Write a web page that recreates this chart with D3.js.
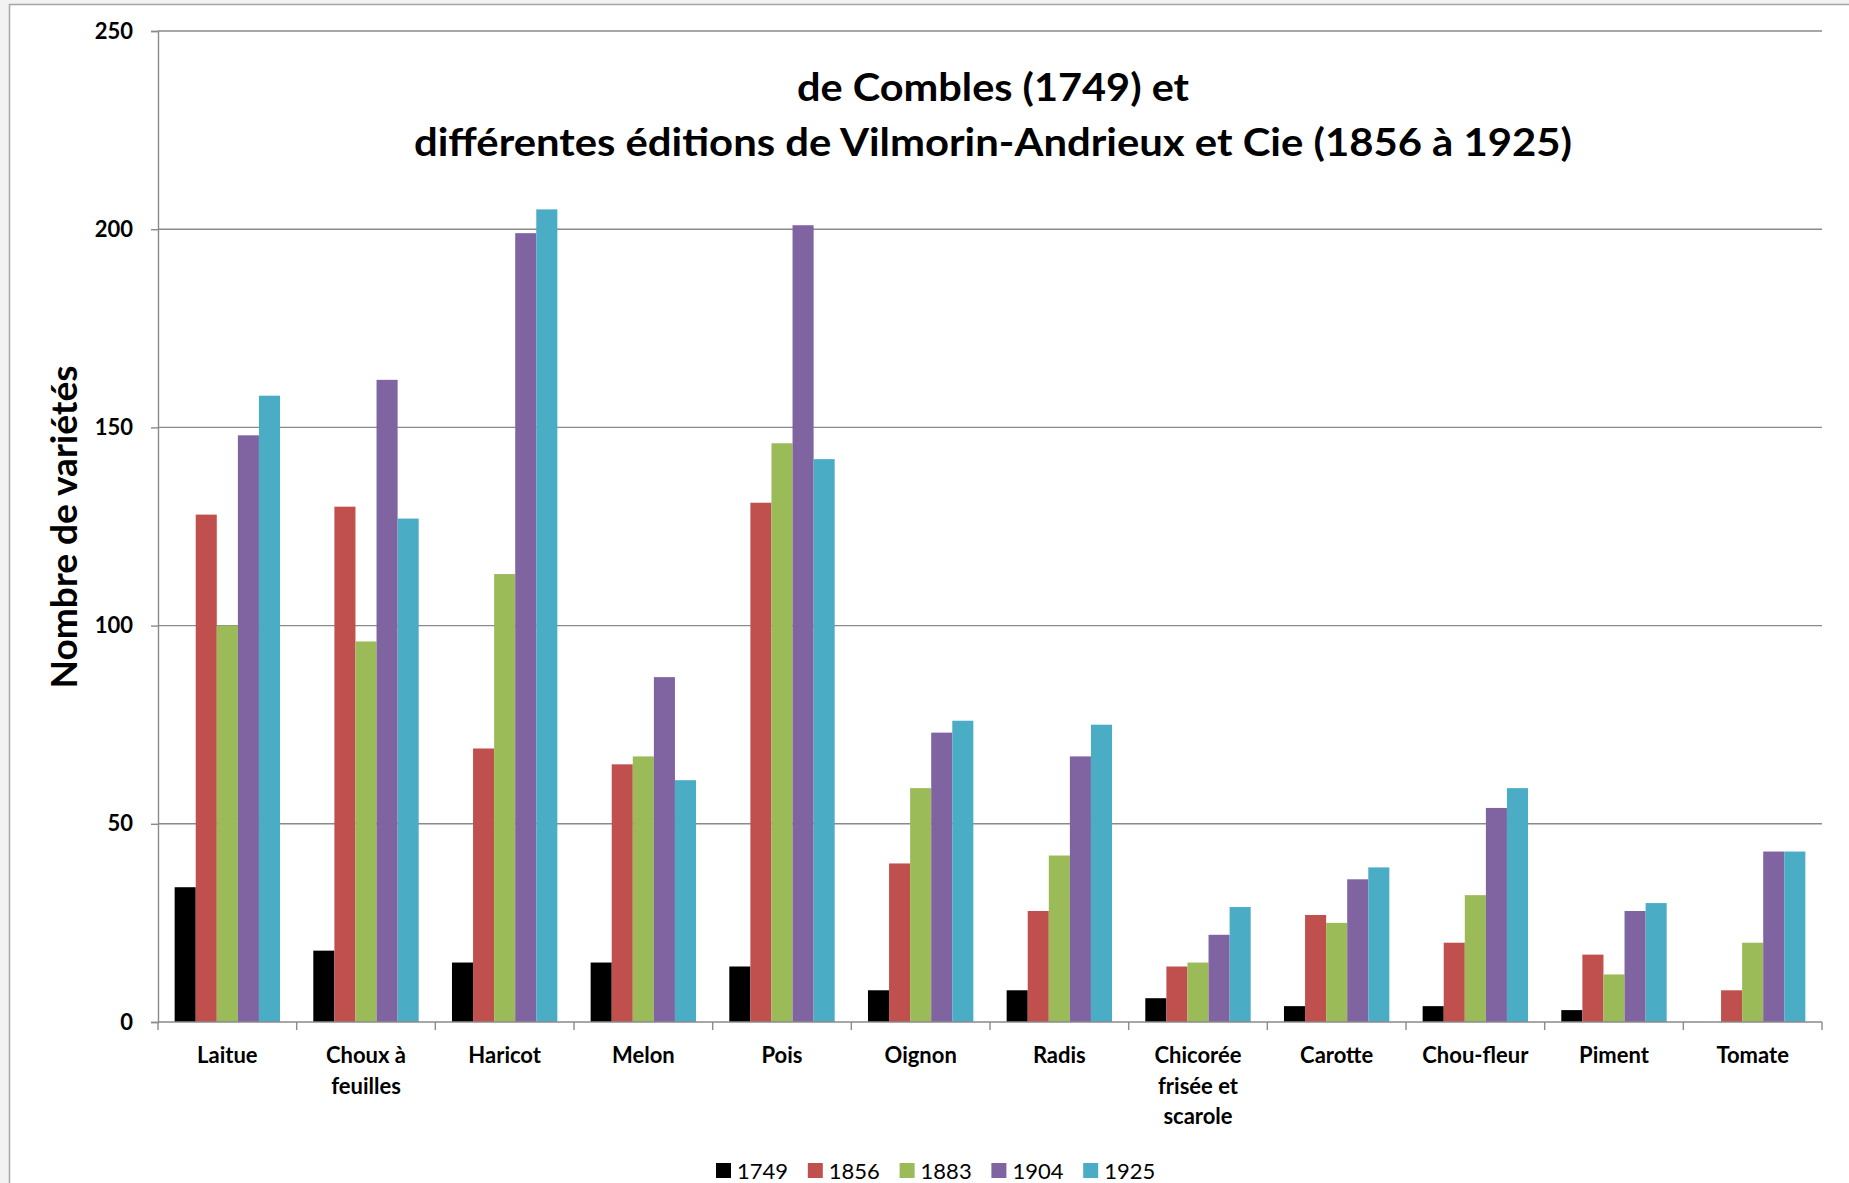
<!DOCTYPE html>
<html>
<head>
<meta charset="utf-8">
<script src="https://cdn.jsdelivr.net/npm/d3@7"></script>
<style>
  html, body { margin: 0; padding: 0; background: #f2f2f2; overflow: hidden; }
  svg { display: block; }
</style>
</head>
<body>
<script>
const categories = [["Laitue"], ["Choux à", "feuilles"], ["Haricot"], ["Melon"], ["Pois"], ["Oignon"], ["Radis"], ["Chicorée", "frisée et", "scarole"], ["Carotte"], ["Chou-fleur"], ["Piment"], ["Tomate"]];
const seriesNames = ["1749", "1856", "1883", "1904", "1925"];
const v1749 = [34, 18, 15, 15, 14, 8, 8, 6, 4, 4, 3, 0];
const v1856 = [128, 130, 69, 65, 131, 40, 28, 14, 27, 20, 17, 8];
const v1883 = [100, 96, 113, 67, 146, 59, 42, 15, 25, 32, 12, 20];
const v1904 = [148, 162, 199, 87, 201, 73, 67, 22, 36, 54, 28, 43];
const v1925 = [158, 127, 205, 61, 142, 76, 75, 29, 39, 59, 30, 43];
const yTicks = [0, 50, 100, 150, 200, 250];
const colors = ["#000000", "#C0504D", "#9BBB59", "#8064A2", "#4BACC6"];
const titleLines = ["de Combles (1749) et", "différentes éditions de Vilmorin-Andrieux et Cie (1856 à 1925)"];
const yLabel = "Nombre de variétés";

(function () {
const seriesValues = [v1749, v1856, v1883, v1904, v1925];
const W = 1849, H = 1183;
const pL = 158, pR = 1822, pT = 31, pB = 1022;
const font = "Lato, 'Open Sans', 'DejaVu Sans', sans-serif";

const svg = d3.select("body").append("svg").attr("width", W).attr("height", H);

// chart frame
svg.append("rect").attr("x", 9.5).attr("y", 4.5).attr("width", W + 10).attr("height", H + 10)
  .attr("fill", "#ffffff").attr("stroke", "#a6a6a6").attr("stroke-width", 1.5);

const idx = d3.range(categories.length);
const x0 = d3.scaleBand().domain(idx).range([pL, pR]).padding(0);
const bw = x0.bandwidth();
const x1 = d3.scaleBand().domain(d3.range(seriesNames.length)).range([bw * 0.12, bw * 0.88]).padding(0);
const y = d3.scaleLinear().domain([0, 250]).range([pB, pT]);

// gridlines
svg.append("g").selectAll("line").data(yTicks.filter(t => t > 0)).join("line")
  .attr("x1", pL).attr("x2", pR)
  .attr("y1", d => y(d)).attr("y2", d => y(d))
  .attr("stroke", "#8a8a8a").attr("stroke-width", 1.4);

// bars
const groups = svg.append("g").selectAll("g").data(idx).join("g")
  .attr("transform", i => `translate(${x0(i)},0)`);
groups.selectAll("rect").data(i => seriesValues.map((s, k) => ({k, v: s[i]}))).join("rect")
  .attr("x", d => x1(d.k))
  .attr("width", x1.bandwidth())
  .attr("y", d => y(d.v))
  .attr("height", d => y(0) - y(d.v))
  .attr("fill", d => colors[d.k]);

// y axis
const yAxis = d3.axisLeft(y).tickValues(yTicks).tickSize(7).tickPadding(18).tickFormat(d3.format("d"));
const gy = svg.append("g").attr("transform", `translate(${pL},0)`).call(yAxis);
gy.select(".domain").attr("stroke", "#8a8a8a").attr("stroke-width", 1.4);
gy.selectAll(".tick line").attr("stroke", "#8a8a8a").attr("stroke-width", 1.4);
gy.selectAll(".tick text").attr("font-family", font).attr("font-weight", "bold")
  .attr("font-size", 22).attr("fill", "#000");

// x axis
svg.append("line").attr("x1", pL).attr("x2", pR).attr("y1", pB).attr("y2", pB)
  .attr("stroke", "#8a8a8a").attr("stroke-width", 1.4);
svg.append("g").selectAll("line").data(d3.range(categories.length + 1)).join("line")
  .attr("x1", i => pL + i * bw).attr("x2", i => pL + i * bw)
  .attr("y1", pB).attr("y2", pB + 8)
  .attr("stroke", "#8a8a8a").attr("stroke-width", 1.4);

// x labels
const xl = svg.append("g").selectAll("text").data(idx).join("text")
  .attr("x", i => x0(i) + bw / 2).attr("y", 1063)
  .attr("text-anchor", "middle").attr("font-family", font).attr("font-weight", "bold")
  .attr("font-size", 22).attr("fill", "#000");
xl.selectAll("tspan").data(i => categories[i].map(t => ({t, cx: x0(i) + bw / 2}))).join("tspan")
  .attr("x", d => d.cx)
  .attr("dy", (d, j) => j === 0 ? 0 : 30.5)
  .text(d => d.t);

// title
svg.append("g").selectAll("text").data(titleLines).join("text")
  .attr("x", 993).attr("y", (d, j) => 101 + j * 55)
  .attr("text-anchor", "middle").attr("font-family", font).attr("font-weight", "bold")
  .attr("font-size", 39).attr("fill", "#000")
  .attr("textLength", (d, j) => j === 0 ? 392 : 1158).attr("lengthAdjust", "spacingAndGlyphs")
  .text(d => d);

// y label
svg.append("text").attr("transform", "translate(77,527) rotate(-90)")
  .attr("text-anchor", "middle").attr("font-family", font).attr("font-weight", "bold")
  .attr("font-size", 37).attr("fill", "#000")
  .attr("textLength", 323).attr("lengthAdjust", "spacingAndGlyphs")
  .text(yLabel);

// legend
const lg = svg.append("g").selectAll("g").data(seriesNames).join("g")
  .attr("transform", (d, k) => `translate(${716 + k * 91.8},1163)`);
lg.append("rect").attr("width", 15).attr("height", 15).attr("fill", (d, k) => colors[k]);
lg.append("text").attr("x", 21).attr("y", 15.5).attr("font-family", font)
  .attr("font-size", 22).attr("fill", "#000").text(d => d);
})();
</script>
</body>
</html>
